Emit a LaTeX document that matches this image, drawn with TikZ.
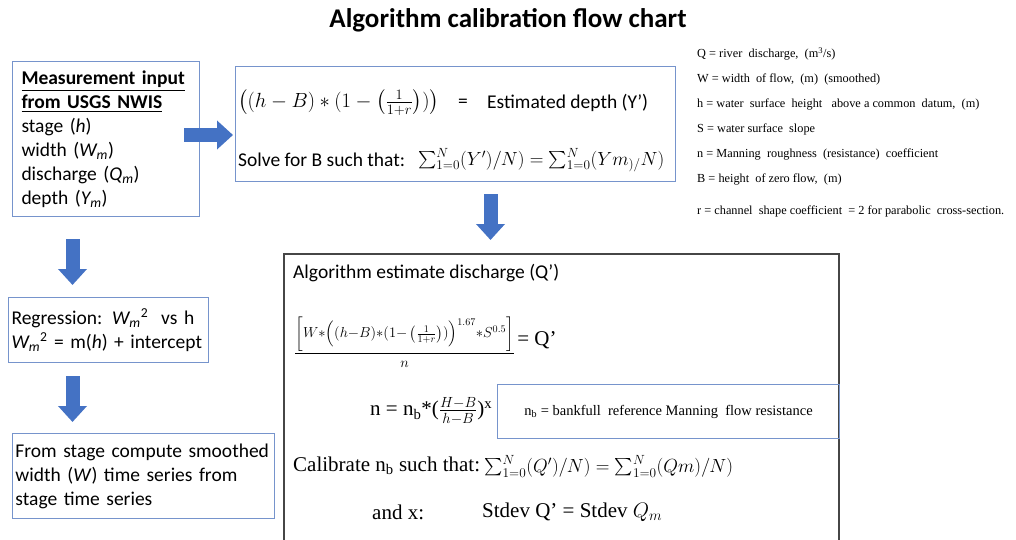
\RequirePackage{fix-cm}
\documentclass[tikz,border=0pt]{standalone}
\usepackage{amsmath}
\usepackage[no-math]{fontspec}
\setmainfont{Carlito}
\newfontfamily\tnr{Liberation Serif}
\usetikzlibrary{arrows.meta,positioning,calc}
\definecolor{boxblue}  {RGB}{118,148,204}
\definecolor{arrblue}  {RGB}{68,114,196}
\definecolor{framegray}{RGB}{70,70,70}
\newcommand{\bodyfont}{\fontsize{19.5}{24}\selectfont}
\newcommand{\serfont}{\tnr\fontsize{21}{24}\selectfont}
\newcommand{\lgdfont}{\tnr\fontsize{12.3}{14}\selectfont}
\tikzset{
  box/.style={draw=boxblue,line width=1pt,inner sep=0pt},
  frame/.style={draw=framegray,line width=1.5pt,inner sep=0pt},
  blockarr/.style={draw=arrblue,line width=14pt,
                   -{Triangle[length=16pt,width=28pt]}},
  txt/.style={inner sep=0pt,anchor=west,font=\bodyfont},
  ser/.style={inner sep=0pt,anchor=west,font=\serfont},
  lgd/.style={inner sep=0pt,anchor=west,font=\lgdfont},
}
\begin{document}
\begin{tikzpicture}[x=1pt,y=-1pt]
  \useasboundingbox (0,0) rectangle (1016,539);
  \node[font=\fontsize{27}{32}\selectfont\bfseries](title) at (508,20)
    {Algorithm calibration flow chart};

  % input and the two steps below it
  \node[box,anchor=north west,minimum width=187,minimum height=155,
        text width=169,inner xsep=9,align=left,font=\bodyfont](meas) at (12,61)
    {\textbf{\underline{Measurement input}}\\
     \textbf{\underline{from USGS NWIS}}\\
     stage (\textit{h})\\
     width (\textit{W\textsubscript{m}})\\
     discharge (\textit{Q\textsubscript{m}})\\
     depth (\textit{Y\textsubscript{m}})};
  \node[box,anchor=north west,minimum width=200,minimum height=65,
        text width=194,inner xsep=3,align=left,font=\bodyfont](regr) at (8,297)
    {Regression: \textit{W\textsubscript{m}}\textsuperscript{2}~~vs h\\
     \textit{W\textsubscript{m}}\textsuperscript{2} = m(\textit{h}) + intercept};
  \node[box,anchor=north west,minimum width=262,minimum height=85,
        text width=256,inner xsep=3,align=left,font=\bodyfont](wseries) at (12,433)
    {From stage compute smoothed\\
     width (\textit{W}) time series from\\
     stage time series};

  % depth estimate
  \node[box,anchor=north west,minimum width=440,minimum height=115](depth) at (235,66) {};
  \node[txt,font=\fontsize{20.5}{24}\selectfont](deptheq) at (238,103)
    {$\left((h-B)\ast(1-\left(\frac{1}{1+r}\right))\right)$};
  \node[txt](deptheqs) at (458,103) {=};
  \node[txt](depthlbl) at (487,103) {Estimated depth (Y’)};
  \node[txt](solveB) at (238,160) {Solve for B such that:};
  \node[txt,font=\fontsize{19}{23}\selectfont](solveBeq) at (418,160)
    {$\sum_{1=0}^{N}(Y')/N) = \sum_{1=0}^{N}(Ym_{)/}N)$};

  % legend
  \node[lgd](lQ) at (697,54) {Q = river~ discharge,~ (m\textsuperscript{3}/s)};
  \node[lgd](lW) at (697,79) {W = width~ of flow,~ (m)~ (smoothed)};
  \node[lgd](lh) at (697,104) {h = water~ surface~ height~~ above a common~ datum,~ (m)};
  \node[lgd](lS) at (697,129) {S = water surface~ slope};
  \node[lgd](ln) at (697,154) {n = Manning~ roughness~ (resistance)~ coefficient};
  \node[lgd](lB) at (697,179) {B = height~ of zero flow,~ (m)};
  \node[lgd](lr) at (697,211) {r = channel~ shape coefficient~ = 2 for parabolic~ cross-section.};

  % discharge estimate
  \node[frame,anchor=north west,minimum width=555,minimum height=310](calib) at (283,253) {};
  \node[txt](qtitle) at (293,273) {Algorithm estimate discharge (Q’)};
  \node[inner sep=0pt,anchor=west,font=\fontsize{14.5}{17}\selectfont](qeq) at (294,342)
    {$\dfrac{\bigg[W{\ast}\Big((h{-}B){\ast}(1{-}\left(\frac{1}{1+r}\right))\Big)^{1.67}{\ast}S^{0.5}\bigg]}{n}$};
  \node[ser,right=2pt of qeq,yshift=2pt](qeqs) {= Q’};
  \node[ser](neq) at (370,411)
    {n = n\textsubscript{b}*($\frac{H-B}{h-B}$)\textsuperscript{x}};
  \node[box,anchor=north west,minimum width=342,minimum height=54,
        font=\tnr\fontsize{14.5}{17}\selectfont](nb) at (497,384)
    {n\textsubscript{b} = bankfull~ reference Manning~ flow resistance};
  \node[ser](calnb) at (293,466) {Calibrate n\textsubscript{b} such that:};
  \node[ser,right=4pt of calnb,font=\fontsize{19}{23}\selectfont](calnbeq)
    {$\sum_{1=0}^{N}(Q')/N) = \sum_{1=0}^{N}(Qm)/N)$};
  \node[ser](andx) at (372,512) {and x:};
  \node[ser](stdev) at (482,512) {Stdev Q’ = Stdev $Q_m$};

  % block arrows
  \draw[blockarr,shorten >=2pt]([xshift=-16pt,yshift=4pt]meas.east)
    -- ([yshift=4pt]meas.east -| depth.west);
  \draw[blockarr,shorten <=12pt,shorten >=13pt]([xshift=35pt]depth.south)
    -- ([xshift=35pt]depth.south |- calib.north);
  \draw[blockarr,shorten <=22pt,shorten >=12pt]([xshift=-33.5pt]meas.south)
    -- ([xshift=-33.5pt]meas.south |- regr.north);
  \draw[blockarr,shorten <=13pt,shorten >=11pt]([xshift=-36pt]regr.south)
    -- ([xshift=-36pt]regr.south |- wseries.north);
\end{tikzpicture}
\end{document}
